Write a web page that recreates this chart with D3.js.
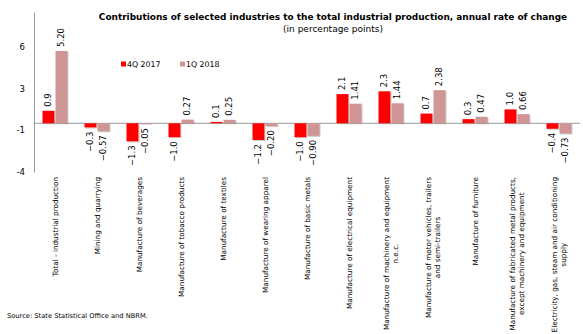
<!DOCTYPE html>
<html>
<head>
<meta charset="utf-8">
<script src="https://cdn.jsdelivr.net/npm/d3@7"></script>
<style>
  html, body { margin: 0; padding: 0; background: #fff; }
  svg { display: block; font-family: "DejaVu Sans", sans-serif; }
</style>
</head>
<body>
<svg id="chart" width="583" height="334"></svg>
<script>
// Industry categories (line breaks mark how the axis labels wrap)
const categories = [
  "Total - industrial production",
  "Mining and quarrying",
  "Manufacture of beverages",
  "Manufacture of tobacco products",
  "Manufacture of textiles",
  "Manufacture of wearing apparel",
  "Manufacture of basic metals",
  "Manufacture of electrical equipment",
  "Manufacture of machinery and equipment\nn.e.c.",
  "Manufacture of motor vehicles, trailers\nand semi-trailers",
  "Manufacture of furniture",
  "Manufacture of fabricated metal products,\nexcept machinery and equipment",
  "Electricity, gas,  steam and air conditioning\nsupply"
];
const seriesNames = ["4Q 2017", "1Q 2018"];
const values4Q2017 = [0.9, -0.3, -1.3, -1.0, 0.1, -1.2, -1.0, 2.1, 2.3, 0.7, 0.3, 1.0, -0.4];
const values1Q2018 = [5.20, -0.57, -0.05, 0.27, 0.25, -0.20, -0.90, 1.41, 1.44, 2.38, 0.47, 0.66, -0.73];
const yDomain = [-3.5, 8];
const yTickValues = [-3.5, -0.5, 2.5, 5.5];
const yTickLabels = ["-4", "-1", "3", "6"];

const seriesValues = [values4Q2017, values1Q2018];
const seriesColors = ["#FF0000", "#D09595"];
const labelFormats = [d3.format(".1f"), d3.format(".2f")];

const svg = d3.select("#chart");
svg.append("rect").attr("width", 583).attr("height", 334).attr("fill", "#fff");

// soft shadow under the bars
const defs = svg.append("defs");
const f = defs.append("filter").attr("id", "barShadow")
  .attr("x", "-20%").attr("y", "-20%").attr("width", "160%").attr("height", "160%");
f.append("feDropShadow").attr("dx", 1).attr("dy", 1).attr("stdDeviation", 0.6)
  .attr("flood-color", "#888").attr("flood-opacity", 0.45);

const plot = { left: 34, right: 580, top: 12, bottom: 172 };

const x = d3.scaleBand().domain(categories).range([plot.left, plot.right]);
const xs = d3.scaleBand().domain(seriesNames).range([0, x.bandwidth()])
  .paddingInner(0.077).paddingOuter(0.654);
const y = d3.scaleLinear().domain(yDomain).range([plot.bottom, plot.top]);

// Title
svg.append("text").attr("x", 333).attr("y", 20).attr("text-anchor", "middle")
  .attr("font-size", 8.95).attr("font-weight", "bold").attr("fill", "#000")
  .text("Contributions of selected industries to the total industrial production, annual rate of change");
svg.append("text").attr("x", 333).attr("y", 31.5).attr("text-anchor", "middle")
  .attr("font-size", 9).attr("fill", "#000")
  .text("(in percentage points)");

// Y axis
const yAxis = d3.axisLeft(y).tickValues(yTickValues)
  .tickFormat((d, i) => yTickLabels[i]).tickSize(0).tickSizeOuter(0).tickPadding(9);
const gy = svg.append("g").attr("transform", `translate(${plot.left},0)`).call(yAxis);
gy.select(".domain").attr("stroke", "#9a9a9a").attr("stroke-width", 1);
gy.selectAll("text").attr("font-size", 8.5).attr("font-family", "DejaVu Sans").attr("fill", "#000");

// Zero line
svg.append("line")
  .attr("x1", plot.left).attr("x2", plot.right)
  .attr("y1", y(0)).attr("y2", y(0))
  .attr("stroke", "#9a9a9a").attr("stroke-width", 1);

// Bars and value labels
const groups = svg.append("g").selectAll("g").data(categories).join("g")
  .attr("transform", d => `translate(${x(d)},0)`);

seriesNames.forEach((s, si) => {
  groups.append("rect")
    .attr("x", xs(s))
    .attr("width", xs.bandwidth())
    .attr("y", (d, i) => y(Math.max(0, seriesValues[si][i])))
    .attr("height", (d, i) => Math.abs(y(seriesValues[si][i]) - y(0)))
    .attr("fill", seriesColors[si])
    .attr("filter", "url(#barShadow)");

  groups.append("text")
    .attr("transform", (d, i) => {
      const v = seriesValues[si][i];
      const ty = v >= 0 ? y(v) - 4 : y(v) + 4;
      return `translate(${xs(s) + xs.bandwidth() / 2},${ty}) rotate(-90)`;
    })
    .attr("dy", "0.35em")
    .attr("text-anchor", (d, i) => seriesValues[si][i] >= 0 ? "start" : "end")
    .attr("font-size", 8.5).attr("fill", "#000")
    .text((d, i) => labelFormats[si](seriesValues[si][i]));
});

// Category labels, rotated, wrapped lines centred on each other
const labelTop = 177, lineH = 8.8, catFont = 7.25;
categories.forEach(c => {
  const lines = c.split("\n");
  const g = svg.append("g")
    .attr("transform", `translate(${x(c) + x.bandwidth() / 2},${labelTop}) rotate(-90)`);
  const t = g.append("text").attr("font-size", catFont).attr("fill", "#000")
    .attr("text-anchor", "middle");
  const spans = lines.map((ln, i) => t.append("tspan")
    .attr("dy", i === 0 ? `${0.35 - (lines.length - 1) * lineH / catFont / 2}em` : `${lineH / catFont}em`)
    .text(ln));
  const maxLen = d3.max(spans, sp => sp.node().getComputedTextLength());
  spans.forEach(sp => sp.attr("x", -maxLen / 2));
});

// Legend
const legend = svg.append("g");
const legendPos = [121, 180];
seriesNames.forEach((s, i) => {
  legend.append("rect").attr("x", legendPos[i]).attr("y", 61.5).attr("width", 5).attr("height", 5)
    .attr("fill", seriesColors[i]);
  legend.append("text").attr("x", legendPos[i] + 6).attr("y", 67)
    .attr("font-size", 7.8).attr("fill", "#000").text(s);
});

// Source note
svg.append("text").attr("x", 7).attr("y", 318)
  .attr("font-size", 6.7).attr("fill", "#000")
  .text("Source: State Statistical Office and NBRM.");
</script>
</body>
</html>
